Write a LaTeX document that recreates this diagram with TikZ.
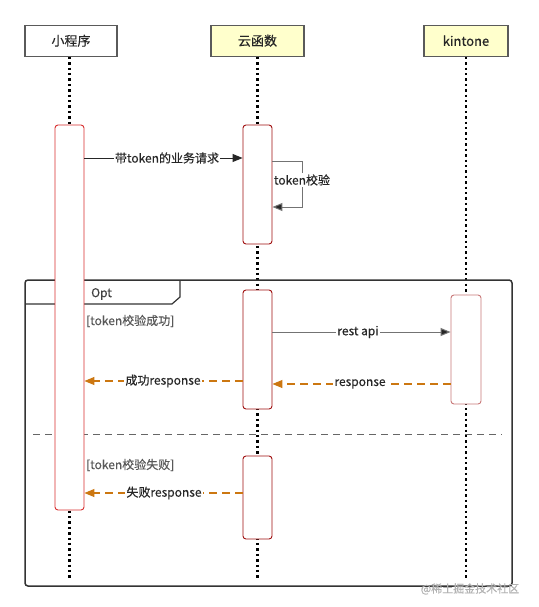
\documentclass[tikz,border=0pt]{standalone}
\usepackage{fontspec}
\setmainfont{Noto Sans CJK SC}[FakeBold=0.35]
\usetikzlibrary{arrows.meta}
\definecolor{hdrfill}{HTML}{FFFFCC}
\definecolor{hdrline}{HTML}{5A5A5A}
\definecolor{actred}{HTML}{A01010}
\definecolor{actpink}{HTML}{C87878}
\definecolor{actbright}{HTML}{D83030}
\definecolor{resp}{HTML}{CC7711}
\definecolor{frameline}{HTML}{333333}
\tikzset{
  hdr/.style={draw=hdrline, line width=1.3pt, minimum width=92pt, minimum height=31pt, inner sep=0pt, font=\fontsize{13}{15}\selectfont, text=black!85},
  act/.style={draw=actred, fill=white, line width=0.9pt, rounded corners=3pt, minimum width=29pt, inner sep=0pt},
  life/.style={line width=2.2pt, dash pattern=on 2.4pt off 3pt, black},
  msg/.style={line width=1pt, draw=black!85, -{Triangle[length=10pt,width=8pt]}},
  gmsg/.style={line width=1pt, draw=black!55, -{Triangle[length=10pt,width=8pt,fill=black!85]}},
  rmsg/.style={line width=1.1pt, draw=resp, dash pattern=on 8pt off 5pt, -{Triangle[length=10pt,width=8pt,fill=resp]}},
  lbl/.style={fill=white, inner sep=1pt, font=\fontsize{12}{14}\selectfont, text=black!85},
  guard/.style={anchor=west, inner sep=0pt, font=\fontsize{12}{14}\selectfont, text=black!65},
}
\begin{document}
\begin{tikzpicture}[x=1pt,y=-1pt]
\useasboundingbox[fill=white] (0,0) rectangle (538,607);
% headers
\node[hdr] (h1) at (71,40.75) {小程序};
\node[hdr, fill=hdrfill, minimum width=93pt] (h2) at (257.5,40.75) {云函数};
\node[hdr, fill=hdrfill, minimum width=84pt] (h3) at (466,40.75) {kintone};
% lifeline ends
\coordinate (e1) at (69.5,578);
\coordinate (e2) at (257.5,578);
\coordinate (e3) at (466,578);
\draw[life] (h1.south -| e1) -- (e1);
\draw[life] (h2.south -| e2) -- (e2);
\draw[life] (h3.south -| e3) -- (e3);
% opt frame
\draw[frameline, line width=1.5pt, rounded corners=3pt] (25,280) rectangle (512,586);
\draw[frameline, line width=1.2pt] (25,304) -- (172,304) -- (180,297) -- (180,280);
\node[anchor=west, inner sep=0pt, font=\fontsize{12}{14}\selectfont, text=black!75] (opt) at (91,294) {Opt};
\draw[black!60, line width=1pt, dash pattern=on 7pt off 5pt] (33,434) -- (502,434);
% activations
\node[act, draw=actbright, minimum height=385pt] (a1) at (69.5,317.5) {};
\node[act, minimum height=119pt] (b1) at (257.5,184.5) {};
\node[act, minimum height=119pt] (b2) at (257.5,349.5) {};
\node[act, minimum height=83pt] (b3) at (257.5,497.5) {};
\node[act, draw=actpink, minimum width=30pt, minimum height=109pt] (c1) at (466,349.5) {};
% message 1
\draw[msg] (a1.east |- 0,158) -- (b1.west |- 0,158);
\node[lbl] (l1) at (167,158) {带token的业务请求};
% self message
\coordinate (s1) at (302,161);
\coordinate (s2) at (302,207);
\draw[gmsg] (b1.east |- s1) -- (s1) -- (s2) -- (b1.east |- s2);
\node[lbl] (l2) at (302,180) {token校验};
% guards
\node[guard] (g1) at (86,321) {[token校验成功]};
\node[guard] (g2) at (86,465) {[token校验失败]};
% rest api
\draw[gmsg] (b2.east |- 0,332) -- (c1.west |- 0,332);
\node[lbl] (l3) at (358,332) {rest api};
% responses
\draw[rmsg] (b2.west |- 0,381) -- (a1.east |- 0,381);
\node[lbl] (l4) at (163,381) {成功response};
\draw[rmsg] (c1.west |- 0,384) -- (b2.east |- 0,384);
\node[lbl] (l5) at (360,384) {response};
\draw[rmsg] (b3.west |- 0,493) -- (a1.east |- 0,493);
\node[lbl] (l6) at (164,493) {失败response};
% watermark
\node[inner sep=0pt, font=\fontsize{11}{13}\selectfont, text=black!30] (wm) at (470,589) {@稀土掘金技术社区};
\end{tikzpicture}
\end{document}
